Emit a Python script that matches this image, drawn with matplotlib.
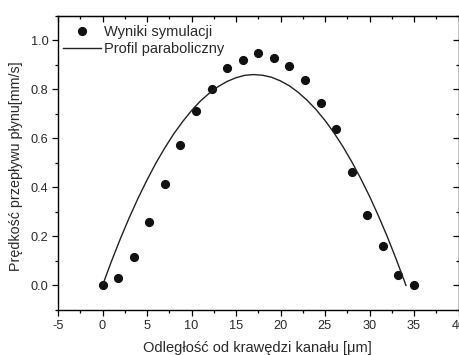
import matplotlib
matplotlib.use("Agg")
import matplotlib.pyplot as plt
from matplotlib.ticker import MultipleLocator

plt.rcParams['font.family'] = ['Liberation Sans', 'DejaVu Sans']

# wyniki symulacji
x_sym = [0, 1.75, 3.5, 5.25, 7.0, 8.75, 10.5, 12.25, 14.0, 15.75, 17.5,
         19.25, 21.0, 22.75, 24.5, 26.25, 28.0, 29.75, 31.5, 33.25, 35.0]
v_sym = [0.0, 0.030, 0.116, 0.257, 0.413, 0.574, 0.713, 0.801, 0.888, 0.919, 0.946,
         0.928, 0.896, 0.836, 0.745, 0.637, 0.462, 0.288, 0.160, 0.041, 0.0]

# profil paraboliczny
x_par = [0, 1, 2, 3, 4, 5, 6, 7, 8, 9, 10, 11, 12, 13, 14, 15, 16, 17,
         18, 19, 20, 21, 22, 23, 24, 25, 26, 27, 28, 29, 30, 31, 32, 33, 34, 34.1]
v_par = [0.0, 0.098, 0.190, 0.276, 0.356, 0.430, 0.499, 0.561, 0.618, 0.668,
         0.713, 0.752, 0.784, 0.811, 0.832, 0.847, 0.857, 0.860, 0.857, 0.849,
         0.834, 0.814, 0.787, 0.755, 0.717, 0.673, 0.623, 0.567, 0.505, 0.437,
         0.364, 0.284, 0.199, 0.107, 0.010, 0.0]

x_ticks = [-5, 0, 5, 10, 15, 20, 25, 30, 35, 40]
y_ticks = [0.0, 0.2, 0.4, 0.6, 0.8, 1.0]

fig = plt.figure(figsize=(4.59, 3.55), dpi=100)
ax = fig.add_axes([58/459, 45/355, 400.5/459, 294.3/355])

ax.plot(x_sym, v_sym, 'o', color='#111111', ms=5.6, label='Wyniki symulacji')
ax.plot(x_par, v_par, '-', color='#222222', lw=1.0, label='Profil paraboliczny')

ax.set_xlim(-5, 40)
ax.set_ylim(-0.1, 1.1)
ax.set_xticks(x_ticks)
ax.set_xticklabels([str(t) for t in x_ticks])
ax.set_yticks(y_ticks)
ax.set_yticklabels(['%.1f' % t for t in y_ticks])
ax.xaxis.set_minor_locator(MultipleLocator(2.5))
ax.yaxis.set_minor_locator(MultipleLocator(0.1))

ax.tick_params(which='major', direction='out', length=4.5, width=0.9,
               labelsize=9.2, labelcolor='#2a2a2a', pad=2.5)
ax.tick_params(which='minor', direction='out', length=2.5, width=0.9)

top = ax.secondary_xaxis('top')
top.xaxis.set_major_locator(MultipleLocator(5))
top.xaxis.set_minor_locator(MultipleLocator(2.5))
top.tick_params(which='major', direction='in', length=4.5, width=0.9, labeltop=False)
top.tick_params(which='minor', direction='in', length=2.5, width=0.9)
right = ax.secondary_yaxis('right')
right.yaxis.set_major_locator(MultipleLocator(0.2))
right.yaxis.set_minor_locator(MultipleLocator(0.1))
right.tick_params(which='major', direction='in', length=4.5, width=0.9, labelright=False)
right.tick_params(which='minor', direction='in', length=2.5, width=0.9)

for s in ax.spines.values():
    s.set_linewidth(1.0)

ax.set_xlabel('Odległość od krawędzi kanału [μm]', fontsize=10.5, color='#2a2a2a')
ax.set_ylabel('Prędkość przepływu płynu[mm/s]', fontsize=10.3, color='#2a2a2a')
ax.xaxis.set_label_coords(0.497, -0.105)
ax.yaxis.set_label_coords(-0.088, 0.49)

ax.legend(loc='upper left', bbox_to_anchor=(-0.01, 0.998), frameon=False,
          fontsize=10.5, handlelength=2.6, handletextpad=0.2, labelspacing=0.2,
          borderaxespad=0.2, labelcolor='#2a2a2a')

fig.savefig('out.png', dpi=100)
